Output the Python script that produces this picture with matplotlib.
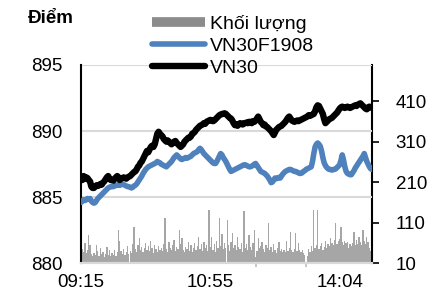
import matplotlib
matplotlib.use('agg')
import matplotlib.pyplot as plt
from matplotlib.lines import Line2D
import numpy as np

plt.rcParams['font.family'] = ['Liberation Sans', 'DejaVu Sans']

# VN30 index, one value per minute
vn30 = [886.5, 886.3, 886.6, 886.4, 886.5, 886.45, 886.3, 886.2, 885.8, 885.7,
        885.7, 885.8, 885.9, 885.85, 885.9, 886.0, 885.95, 886.1, 886.2, 886.35,
        886.5, 886.6, 886.4, 886.3, 886.3, 886.25, 886.4, 886.5, 886.6, 886.5,
        886.3, 886.4, 886.45, 886.5, 886.45, 886.4, 886.5, 886.55, 886.6, 886.7,
        886.8, 886.9, 886.95, 887.1, 887.3, 887.4, 887.6, 887.7, 887.9, 888.1,
        888.3, 888.5, 888.4, 888.6, 888.8, 888.9, 888.8, 889.0, 889.4, 889.8,
        889.95, 889.8, 889.7, 889.6, 889.4, 889.3, 889.2, 889.3, 889.2, 889.1,
        889.0, 889.1, 889.2, 889.25, 889.1, 889.0, 888.9, 888.8, 888.9, 889.0,
        889.2, 889.3, 889.4, 889.5, 889.5, 889.6, 889.8, 889.85, 889.95, 890.1,
        890.2, 890.3, 890.4, 890.45, 890.5, 890.6, 890.55, 890.7, 890.75, 890.8,
        890.85, 890.8, 890.75, 890.8, 890.9, 891.0, 891.1, 891.2, 891.25, 891.3,
        891.3, 891.35, 891.3, 891.2, 891.1, 891.0, 890.95, 890.8, 890.6, 890.45,
        890.5, 890.4, 890.5, 890.6, 890.55, 890.5, 890.6, 890.6, 890.65, 890.6,
        890.7, 890.7, 890.6, 890.75, 890.7, 890.8, 890.95, 891.1, 890.9, 890.7,
        890.6, 890.45, 890.5, 890.35, 890.3, 890.2, 890.1, 890.0, 889.85, 889.7,
        889.9, 890.1, 890.2, 890.3, 890.35, 890.4, 890.5, 890.6, 890.7, 890.85,
        891.0, 891.1, 890.95, 890.8, 890.75, 890.7, 890.75, 890.8, 890.75, 890.8,
        890.85, 890.9, 890.95, 891.0, 891.05, 891.1, 891.2, 891.15, 891.2, 891.25,
        891.3, 891.5, 891.8, 891.95, 891.9, 891.7, 891.5, 891.3, 890.9, 890.6,
        890.7, 890.8, 890.9, 890.95, 891.0, 891.1, 891.2, 891.3, 891.4, 891.55,
        891.7, 891.8, 891.85, 891.8, 891.75, 891.8, 891.85, 891.8, 891.75, 891.8,
        891.85, 891.9, 891.95, 891.9, 892.0, 892.05, 892.1, 892.0, 891.9, 891.8,
        891.7, 891.65, 891.8, 891.85, 891.8, 891.75]

# VN30F1908 futures
vn30f = [884.6, 884.7, 884.8, 884.75, 884.8, 884.9, 884.85, 884.9, 884.7, 884.6,
         884.55, 884.6, 884.75, 884.9, 885.0, 885.1, 885.2, 885.3, 885.4, 885.5,
         885.6, 885.7, 885.75, 885.8, 885.8, 885.8, 885.85, 885.9, 885.9, 885.95,
         885.9, 885.95, 886.0, 885.95, 885.9, 885.85, 885.8, 885.8, 885.75, 885.7,
         885.75, 885.85, 885.9, 886.0, 886.15, 886.3, 886.45, 886.6, 886.8, 886.95,
         887.1, 887.2, 887.3, 887.35, 887.4, 887.45, 887.5, 887.55, 887.6, 887.7,
         887.65, 887.6, 887.5, 887.45, 887.4, 887.35, 887.3, 887.4, 887.5, 887.6,
         887.7, 887.85, 888.0, 888.1, 888.2, 888.1, 888.0, 887.9, 887.85, 887.9,
         887.95, 888.0, 887.95, 888.0, 888.05, 888.1, 888.2, 888.3, 888.35, 888.4,
         888.45, 888.6, 888.7, 888.6, 888.45, 888.3, 888.2, 888.1, 888.0, 887.9,
         887.8, 887.7, 887.6, 887.55, 887.55, 887.7, 887.9, 888.1, 888.3, 888.2,
         888.0, 887.85, 887.7, 887.5, 887.3, 887.1, 886.95, 887.0, 887.05, 887.1,
         887.15, 887.2, 887.25, 887.3, 887.35, 887.4, 887.45, 887.45, 887.4, 887.35,
         887.3, 887.3, 887.35, 887.4, 887.5, 887.55, 887.4, 887.25, 887.1, 886.95,
         886.9, 886.85, 886.8, 886.7, 886.6, 886.45, 886.3, 886.1, 886.15, 886.3,
         886.45, 886.4, 886.45, 886.5, 886.45, 886.6, 886.75, 886.85, 886.95, 887.0,
         887.05, 887.1, 887.1, 887.05, 887.0, 886.95, 886.95, 886.9, 886.85, 886.8,
         886.8, 886.85, 886.95, 887.0, 887.1, 887.15, 887.2, 887.25, 887.3, 887.7,
         888.3, 888.8, 889.0, 889.1, 889.0, 888.85, 888.5, 888.0, 887.6, 887.4,
         887.25, 887.15, 887.1, 887.1, 887.05, 887.1, 887.1, 887.15, 887.25, 887.35,
         887.45, 887.8, 888.2, 887.8, 887.3, 886.95, 886.8, 886.75, 886.7, 886.7,
         886.85, 887.0, 887.2, 887.35, 887.5, 887.65, 887.8, 887.95, 888.1, 888.3,
         888.0, 887.7, 887.5, 887.3, 887.15, 887.1]

# Khối lượng (right axis)
volume = [30, 45, 38, 60, 35, 42, 80, 55, 33, 28,
          36, 30, 55, 40, 28, 48, 32, 38, 26, 34,
          50, 30, 42, 27, 36, 31, 44, 29, 38, 92,
          65, 40, 33, 45, 30, 37, 52, 34, 41, 36,
          58, 100, 46, 39, 55, 72, 44, 50, 38, 47,
          60, 42, 53, 40, 64, 48, 36, 56, 45, 39,
          52, 44, 49, 41, 58, 121, 46, 38, 62, 47,
          43, 55, 68, 40, 51, 45, 92, 57, 72, 44,
          38, 50, 46, 62, 41, 54, 37, 48, 59, 43,
          52, 76, 45, 57, 40, 63, 48, 54, 41, 142,
          50, 76, 44, 58, 39, 66, 47, 121, 53, 82,
          45, 60, 49, 117, 56, 41, 63, 84, 48, 55,
          42, 76, 51, 46, 60, 38, 138, 49, 57, 44,
          79, 50, 43, 61, 92, 25, 40, 72, 47, 53,
          62, 45, 39, 56, 48, 109, 44, 51, 38, 58,
          42, 36, 49, 62, 40, 45, 37, 43, 39, 66,
          41, 47, 88, 43, 38, 46, 84, 40, 61, 44,
          37, 42, 35, 30, 0, 28, 45, 38, 52, 41,
          142, 48, 55, 142, 46, 53, 60, 44, 50, 65,
          48, 57, 52, 72, 61, 55, 67, 109, 58, 64,
          70, 100, 62, 54, 66, 59, 63, 48, 57, 52,
          61, 88, 55, 68, 58, 76, 62, 54, 92, 66,
          58, 76, 62, 49, 40, 30]

tick_idx = [0, 100, 200]
tick_labels = ['09:15', '10:55', '14:04']

x = np.arange(len(vn30))

fig = plt.figure(figsize=(4.46, 2.96), dpi=100)
ax = fig.add_axes([81/446, 1-263.3/296, 291/446, 198.3/296])
axv = ax.twinx()
ax.set_zorder(2)
axv.set_zorder(1)
ax.patch.set_visible(False)

axv.bar(x, volume, width=1.0, color='#a6a6a6', linewidth=0)
axv.set_ylim(10, 500)
axv.set_yticks([10, 110, 210, 310, 410])
axv.tick_params(axis='y', direction='out', length=5, width=1.2, pad=12, labelsize=13.5)

for y in [885, 890, 895]:
    ax.axhline(y, color='#d9d9d9', lw=1.5, zorder=0)
ax.plot(x, vn30f, color='#4f81bd', lw=4.0, solid_capstyle='round', zorder=3)
ax.plot(x, vn30, color='black', lw=4.6, solid_capstyle='round', zorder=4)
ax.set_ylim(880, 895)
ax.set_xlim(0, len(vn30) - 1)
ax.set_yticks([880, 885, 890, 895])
ax.tick_params(axis='y', length=0, pad=13, labelsize=13.5)
ax.set_xticks(tick_idx)
ax.set_xticklabels(tick_labels)
ax.set_xticks([135, 174], minor=True)
ax.tick_params(axis='x', which='major', length=0, pad=8, labelsize=13.5)
ax.tick_params(axis='x', which='minor', length=3, color='#bfbfbf', width=1.2)

for a in (ax, axv):
    a.spines['top'].set_visible(False)
    a.spines['bottom'].set_color('#d9d9d9')
    a.spines['bottom'].set_linewidth(1.5)
    a.spines['left'].set_linewidth(1.5)
    a.spines['right'].set_linewidth(1.5)
axv.spines['left'].set_visible(False)
ax.spines['right'].set_visible(False)

handles = [Line2D([], [], color='#8c8c8c', lw=7, solid_capstyle='butt'),
           Line2D([], [], color='#4f81bd', lw=4.0, solid_capstyle='round'),
           Line2D([], [], color='black', lw=4.6, solid_capstyle='round')]
fig.legend(handles, ['Khối lượng', 'VN30F1908', 'VN30'], loc='upper left',
           bbox_to_anchor=(152/446, 1-15/296), frameon=False, fontsize=14,
           handlelength=2.7, handletextpad=0.3, labelspacing=0.22,
           borderaxespad=0, borderpad=0)

fig.text(28/446, 1-18.5/296, 'Điểm', fontsize=13.5, fontweight='bold', va='center')

fig.savefig('out.png', dpi=100)
